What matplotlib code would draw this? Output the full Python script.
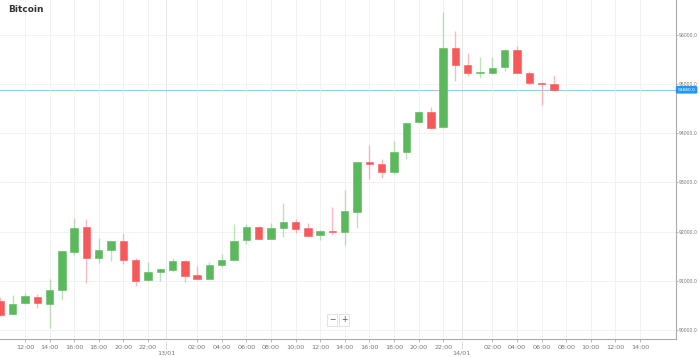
import matplotlib
matplotlib.use("Agg")
import matplotlib.pyplot as plt
import matplotlib.transforms as mtransforms
import numpy as np

# hours counted from 12/01 00:00
hours = list(range(10, 56))
opens = [90580, 90324, 90539, 90675, 90527, 90811, 91575, 92090, 91461, 91615,
         91798, 91426, 91006, 91177, 91209, 91392, 91108, 91035, 91325, 91412,
         91826, 92102, 91853, 92070, 92192, 92062, 91920, 92015, 91989, 92387,
         93422, 93375, 93207, 93613, 94228, 94437, 94126, 95736, 95379, 95222,
         95229, 95338, 95689, 95229, 95026, 94999]
highs = [90680, 90716, 90750, 90730, 91035, 91610, 92273, 92253, 91879, 91810,
         91968, 91460, 91380, 91258, 91460, 91420, 91290, 91372, 91548, 92157,
         92157, 92110, 92171, 92590, 92259, 92171, 92030, 92496, 92847, 93420,
         93755, 93483, 93848, 94230, 94440, 94526, 96455, 96081, 95622, 95553,
         95541, 95700, 95777, 95263, 95030, 95176]
lows = [90275, 90320, 90530, 90446, 90050, 90614, 91528, 90953, 91359, 91392,
        91345, 90899, 91000, 91000, 91185, 90973, 91030, 91030, 91278, 91400,
        91751, 91845, 91840, 91899, 91968, 91905, 91826, 91920, 91717, 92082,
        93077, 93097, 93172, 93471, 94200, 94080, 94110, 95066, 95162, 95127,
        95202, 95269, 95220, 94973, 94573, 94860]
closes = [90310, 90527, 90681, 90540, 90803, 91595, 92062, 91453, 91629, 91798,
          91412, 91000, 91169, 91230, 91392, 91102, 91035, 91319, 91426, 91818,
          92102, 91853, 92062, 92198, 92056, 91914, 92021, 91989, 92421, 93410,
          93375, 93207, 93613, 94214, 94425, 94100, 95736, 95379, 95229, 95249,
          95330, 95689, 95229, 95013, 94993, 94880]

price_ticks = [90000, 91000, 92000, 93000, 94000, 95000, 96000]
hour_ticks = [h for h in range(12, 63, 2) if h % 24 != 0]
date_ticks = [23.5, 47.5]
date_labels = ["13/01", "14/01"]

GREEN = "#5cb85c"
RED = "#f7595b"
GRID = "#f0f0f0"
TEXT = "#777777"

fig = plt.figure(figsize=(6.99, 3.58), dpi=100)
ax = fig.add_axes([0, 19 / 358, 676 / 699, 339 / 358])

o = np.array(opens)
c = np.array(closes)
up = c >= o
colors = np.where(up, GREEN, RED)

ax.vlines(hours, lows, highs, colors=colors, linewidth=1.0, alpha=0.4, zorder=2)
bottoms = np.minimum(o, c)
heights = np.maximum(np.abs(c - o), 25)
ax.bar(hours, heights, bottom=bottoms, width=0.6, color=colors, zorder=3,
       edgecolor=colors, linewidth=0.4)

ax.set_xlim(9.97, 64.93)
ax.set_ylim(89817, 96704)

ax.set_yticks(price_ticks)
ax.set_yticklabels([f"{p:.1f}" for p in price_ticks])
ax.yaxis.tick_right()
ax.set_xticks(hour_ticks)
ax.set_xticklabels([f"{h % 24:02d}:00" for h in hour_ticks])
ax.tick_params(axis="x", labelsize=4.6, colors="#999999", labelcolor=TEXT,
               length=2, width=0.5, pad=2)
ax.tick_params(axis="y", labelsize=3.3, colors="#999999", labelcolor=TEXT,
               length=1.5, width=0.5, pad=0.8)

ax.grid(True, color=GRID, linewidth=0.6, zorder=0)
for s in ["top", "left"]:
    ax.spines[s].set_visible(False)
for s in ["right", "bottom"]:
    ax.spines[s].set_color("#aaaaaa")
    ax.spines[s].set_linewidth(0.8)

# day separators
trans = mtransforms.blended_transform_factory(ax.transData, ax.transAxes)
for d, lab in zip(date_ticks, date_labels):
    ax.axvline(d, color="#e6e6e6", linewidth=0.7, zorder=1)
    ax.plot([d, d], [-0.008, -0.03], transform=trans, color="#999999",
            linewidth=0.5, linestyle=(0, (1, 1)), clip_on=False)
    ax.text(d, -0.035, lab, transform=trans, ha="center", va="top",
            fontsize=4.6, color=TEXT)

# current price
last = closes[-1]
ax.axhline(last, color="#9ccbf0", linewidth=0.8, zorder=1)
ax.annotate(f"{last:.1f}", xy=(1.0, last), xycoords=("axes fraction", "data"),
            xytext=(1.2, 0), textcoords="offset points", ha="left", va="center",
            fontsize=3.2, color="white",
            bbox=dict(boxstyle="round,pad=0.25,rounding_size=0.15",
                      fc="#2196f3", ec="#2196f3"), annotation_clip=False)

ax.text(8 / 676, 1 - 10 / 339, "Bitcoin", transform=ax.transAxes, ha="left",
        va="center", fontsize=6.5, fontweight="bold", color="#333333")

# zoom buttons
for xpix, sym in [(332, "\u2212"), (344, "+")]:
    ax.text(xpix / 676, 1 - 320 / 339, sym, transform=ax.transAxes, ha="center",
            va="center", fontsize=5.5, color="#555555",
            bbox=dict(boxstyle="square,pad=0.25", fc="white", ec="#dddddd",
                      linewidth=0.6))

fig.savefig("out.png", dpi=100)
